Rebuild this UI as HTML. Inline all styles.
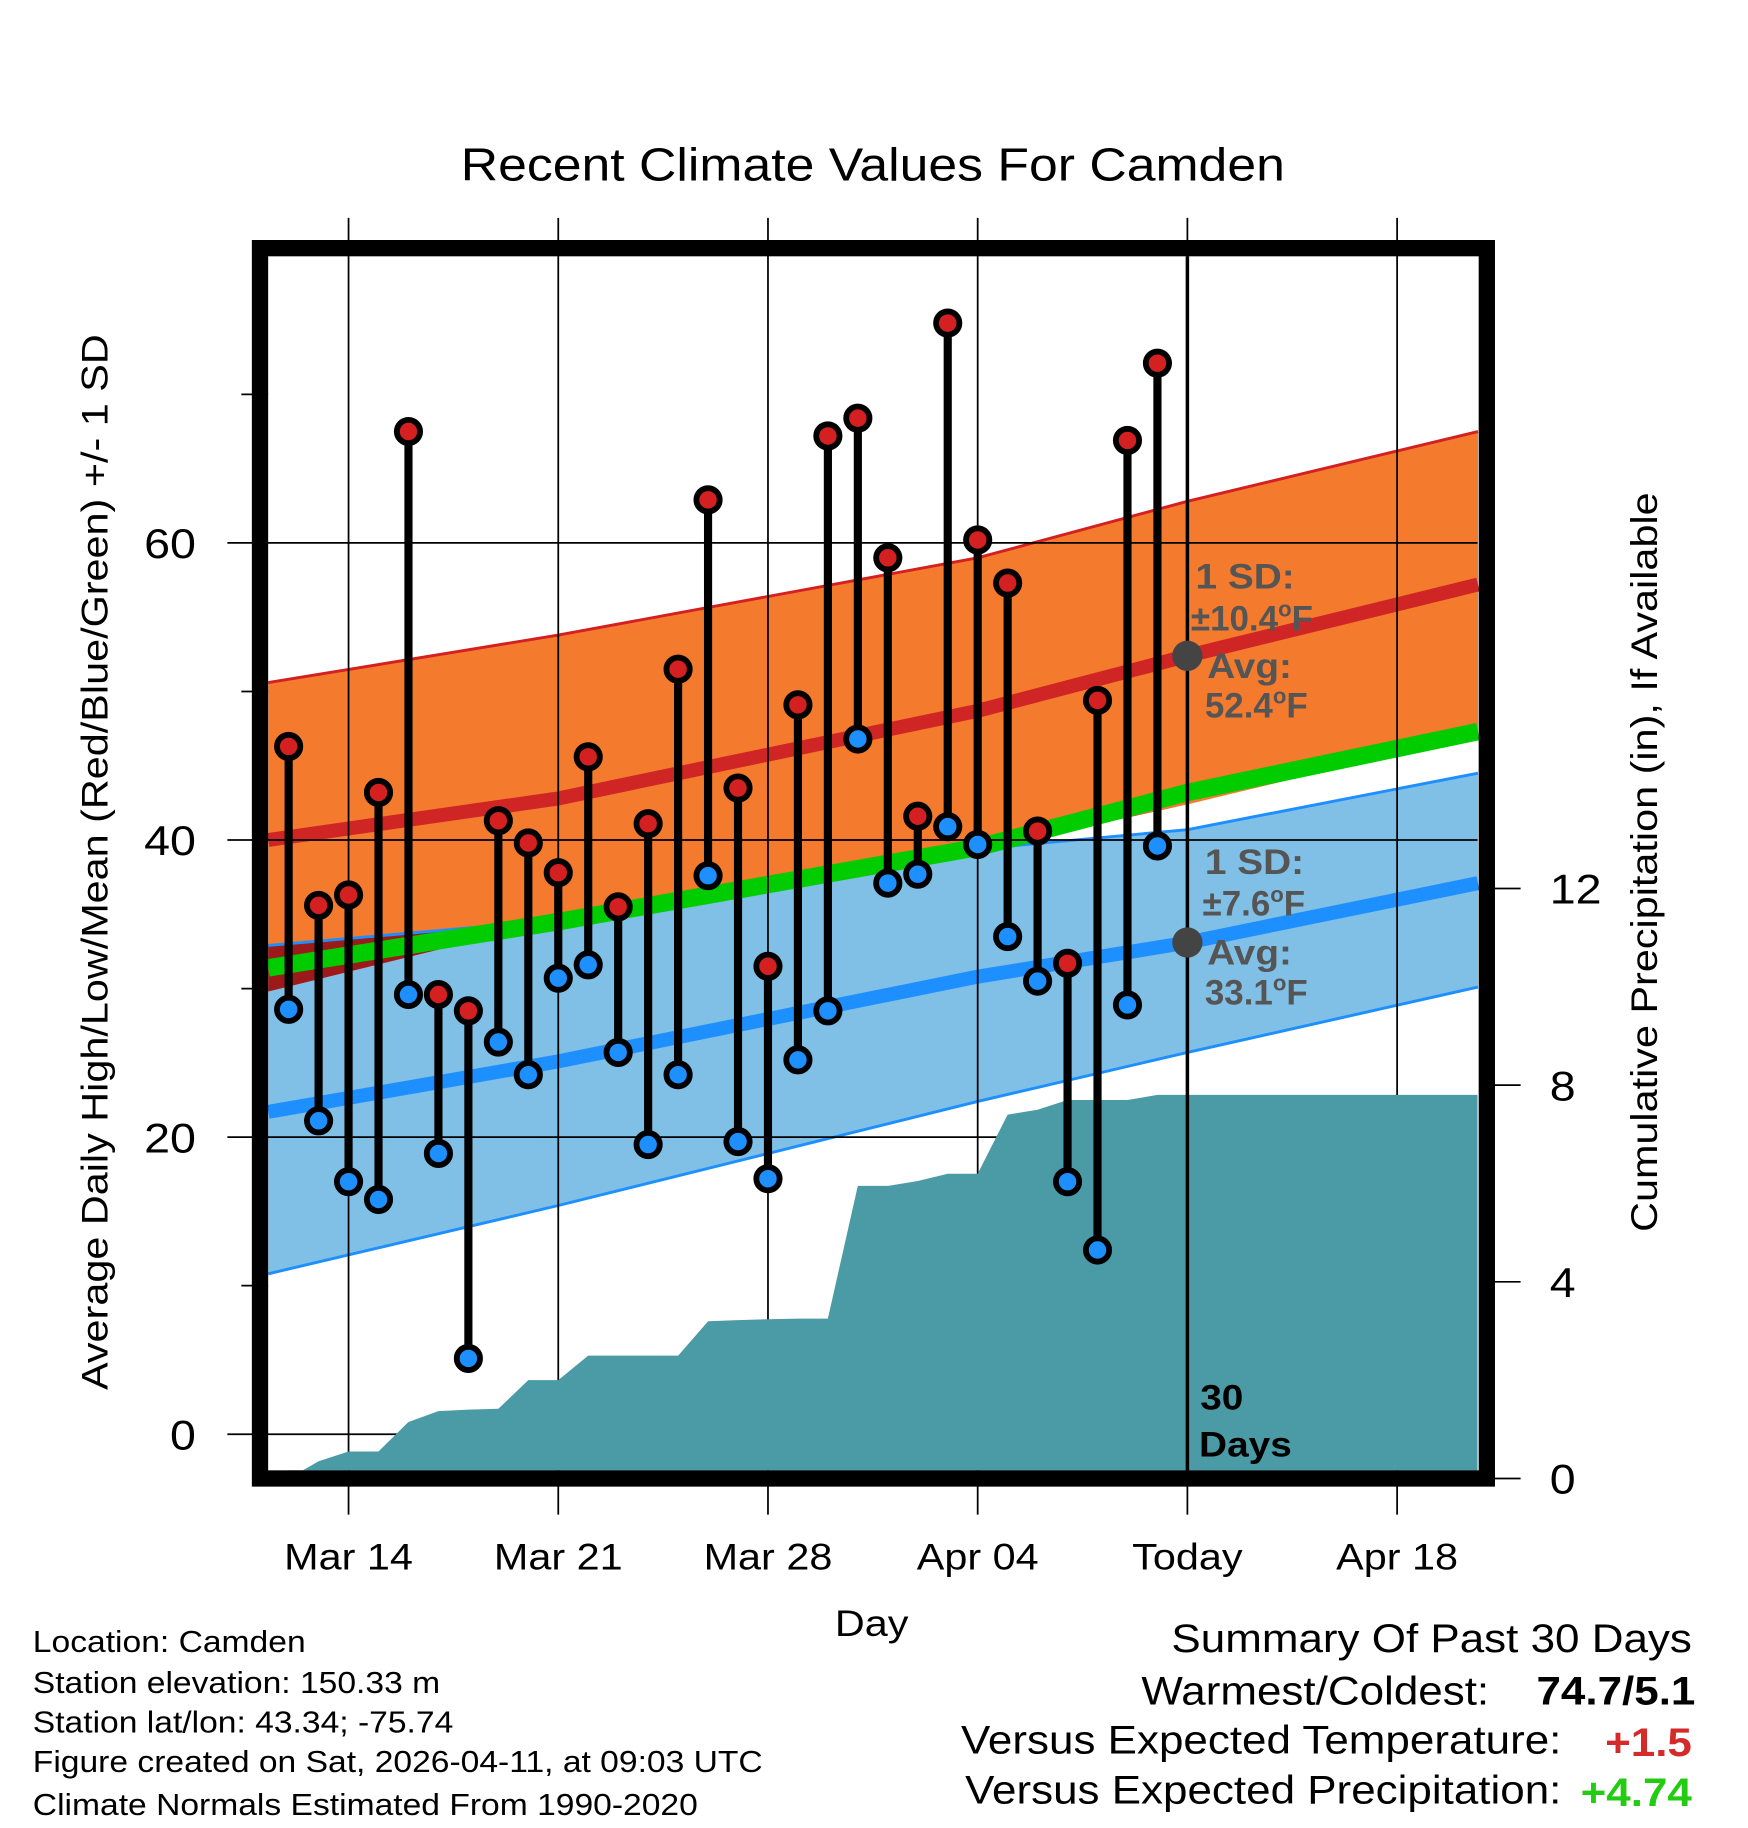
<!DOCTYPE html>
<html><head><meta charset="utf-8">
<style>html,body{margin:0;padding:0;background:#fff}svg{display:block}</style>
</head><body>
<svg id="chart" xmlns="http://www.w3.org/2000/svg" width="1748" height="1828" viewBox="0 0 1500 1569" font-family="Liberation Sans, Arial, sans-serif">
<rect width="1500" height="1569" fill="#fff"/>
<text x="749" y="155" font-size="40" text-anchor="middle">Recent Climate Values For Camden</text>
<g id="bands"></g>
<g id="grid"></g>
<g id="precip"></g>
<g id="marks"></g>
<g id="frame"></g>
<g id="annot"></g>
<text transform="translate(92,740) rotate(-90)" font-size="32" text-anchor="middle">Average Daily High/Low/Mean (Red/Blue/Green) +/- 1 SD</text>
<text transform="translate(1422,740) rotate(-90)" font-size="32" text-anchor="middle">Cumulative Precipitation (in), If Available</text>
<text x="748" y="1404" font-size="32" text-anchor="middle">Day</text>
<g font-size="26">
<text x="28" y="1418">Location: Camden</text>
<text x="28" y="1453">Station elevation: 150.33 m</text>
<text x="28" y="1487">Station lat/lon: 43.34; -75.74</text>
<text x="28" y="1521">Figure created on Sat, 2026-04-11, at 09:03 UTC</text>
<text x="28" y="1558">Climate Normals Estimated From 1990-2020</text>
</g>
<g font-size="34">
<text x="1452" y="1418" text-anchor="end">Summary Of Past 30 Days</text>
<text x="1278" y="1463" text-anchor="end">Warmest/Coldest:</text>
<text x="1455" y="1463" text-anchor="end" font-weight="bold">74.7/5.1</text>
<text x="1340" y="1505" text-anchor="end">Versus Expected Temperature:</text>
<text x="1452" y="1507" text-anchor="end" font-weight="bold" fill="#d42a2a">+1.5</text>
<text x="1340" y="1548" text-anchor="end">Versus Expected Precipitation:</text>
<text x="1452" y="1550" text-anchor="end" font-weight="bold" fill="#22cc11">+4.74</text>
</g>
</svg>
<script>
// ---- data ----
const normDays = [-2.68, 7, 21, 28, 37.7];          // days relative to Mar 14
const redUpper = [50.6, 53.8, 59.0, 62.8, 67.5];
const redMean  = [40.0, 42.8, 48.7, 52.4, 57.2];
const redLower = [29.8, 34.6, 39.3, 42.4, 47.1];
const greenMean= [31.4, 34.5, 39.5, 43.2, 47.3];
const blueUpper= [32.9, 34.6, 39.4, 40.7, 44.5];
const blueMean = [21.7, 25.1, 30.8, 33.1, 37.1];
const blueLower= [10.8, 15.4, 22.4, 25.7, 30.1];
const highs = [46.3,35.6,36.3,43.2,67.5,29.6,28.5,41.3,39.8,37.8,45.6,35.5,41.1,51.5,62.9,43.5,31.5,49.1,67.2,68.4,59.0,41.6,74.8,60.2,57.3,40.6,31.7,49.4,66.9,72.1];
const lows  = [28.6,21.1,17.0,15.8,29.6,18.9,5.1,26.4,24.2,30.7,31.6,25.7,19.5,24.2,37.6,19.7,17.2,25.2,28.5,46.8,37.1,37.7,40.9,39.7,33.5,30.5,17.0,12.4,28.9,39.6];
const precip = [0,0.35,0.55,0.55,1.15,1.37,1.4,1.42,2.0,2.0,2.5,2.5,2.5,2.5,3.2,3.22,3.24,3.25,3.25,5.95,5.95,6.05,6.2,6.2,7.4,7.5,7.7,7.7,7.7,7.8];
const xTickLabels = ["Mar 14","Mar 21","Mar 28","Apr 04","Today","Apr 18"];
const xTickDays = [0,7,14,21,28,35];
const yTicks = [0,20,40,60];
const yMinor = [10,30,50,70];
const y2Ticks = [0,4,8,12];
const firstDay = -2;
// ---- axes ----
const X = d => 299 + 25.714*d;
const Y = v => 1231 - 12.75*v;
const Y2 = p => 1269 - 42.2*p;
const L = 230, R = 1268, T = 220, B = 1262;
const NS = "http://www.w3.org/2000/svg";
function mk(tag, parent, attrs){const e=document.createElementNS(NS,tag);for(const k in attrs)e.setAttribute(k,attrs[k]);parent.appendChild(e);return e;}
const bands=document.getElementById('bands'),grid=document.getElementById('grid'),pr=document.getElementById('precip'),marks=document.getElementById('marks'),frame=document.getElementById('frame'),annot=document.getElementById('annot');
function line(arr){return normDays.map((d,i)=>X(d).toFixed(1)+','+Y(arr[i]).toFixed(1));}
function band(up,lo,fill,name){
  const pts=line(up).concat(line(lo).reverse()).join(' ');
  const p=mk('polygon',bands,{points:pts,fill:fill});
  
  
}
function pl(arr,stroke,w,name){
  const p=mk('polyline',bands,{points:line(arr).join(' '),fill:'none',stroke:stroke,'stroke-width':w});
  
  
}
band(blueUpper,blueLower,'#80bfe6','low-sd-band');
band(redUpper,redLower,'#f47a2e','high-sd-band');
const ovTop=blueUpper.map((v,i)=>Math.max(v,redLower[i])), ovBot=redLower;
band(ovTop,ovBot,'#9c1a1a','overlap-band');
pl(blueUpper,'#1e8fff',2.5,'low-upper-line');
pl(blueLower,'#1e8fff',2.5,'low-lower-line');
pl(redUpper,'#d42020',2.5,'high-upper-line');
pl(greenMean,'#00cc00',15,'mean-normal-line');
pl(redMean,'#d02525',12,'high-normal-line');
pl(blueMean,'#1e8fff',12,'low-normal-line');
// grid
yTicks.forEach(v=>{const l=mk('line',grid,{x1:195,x2:R,y1:Y(v),y2:Y(v),stroke:'#000','stroke-width':1.5});
 const t=mk('text',grid,{x:168,y:Y(v)+13,'font-size':36,'text-anchor':'end'});t.textContent=v;});
yMinor.forEach(v=>{const l=mk('line',grid,{x1:207,x2:L,y1:Y(v),y2:Y(v),stroke:'#000','stroke-width':1.5});});
xTickDays.forEach((d,i)=>{const l=mk('line',grid,{x1:X(d),x2:X(d),y1:187,y2:1300,stroke:'#000','stroke-width':1.5});
 const t=mk('text',grid,{x:X(d),y:1347,'font-size':32,'text-anchor':'middle'});t.textContent=xTickLabels[i];});
y2Ticks.forEach(p=>{const l=mk('line',grid,{x1:1276,x2:1305,y1:Y2(p),y2:Y2(p),stroke:'#000','stroke-width':1.5});
 const t=mk('text',grid,{x:1330,y:Y2(p)+13,'font-size':36});t.textContent=p;});
// precip area
let pts=[X(firstDay)+','+Y2(0)];
precip.forEach((p,i)=>pts.push(X(firstDay+i).toFixed(1)+','+Y2(p).toFixed(1)));
pts.push(R+','+Y2(precip[precip.length-1]).toFixed(1));pts.push(R+','+B);pts.push(X(firstDay)+','+B);
const area=mk('polygon',pr,{points:pts.join(' '),fill:'#4a9ba5'});


// today line
const tl=mk('line',marks,{x1:X(28),x2:X(28),y1:T,y2:B,stroke:'#000','stroke-width':3});


// temps
highs.forEach((h,i)=>{const x=X(firstDay+i);
 const s=mk('line',marks,{x1:x,x2:x,y1:Y(h),y2:Y(lows[i]),stroke:'#000','stroke-width':7});
 
 });
highs.forEach((h,i)=>{const x=X(firstDay+i);
 const c1=mk('circle',marks,{cx:x,cy:Y(h),r:10,fill:'#d42020',stroke:'#000','stroke-width':5});
 
 
 const c2=mk('circle',marks,{cx:x,cy:Y(lows[i]),r:10,fill:'#1e8fff',stroke:'#000','stroke-width':5});
 
 });
// mean dots
[52.4,33.1].forEach(v=>{const c=mk('circle',marks,{cx:X(28),cy:Y(v),r:13,fill:'#444'});
 
 });
// frame
const fr=mk('rect',frame,{x:223,y:213,width:1053,height:1056,fill:'none',stroke:'#000','stroke-width':14});


// annotations
function tx(x,y,str,fill,name){const t=mk('text',annot,{x:x,y:y,'font-size':30,'font-weight':'bold',fill:fill});t.innerHTML=str;}
tx(1026,505,'1 SD:','#555','high-sd-label');
tx(1022,541,'±10.4<tspan font-size="19" dy="-12">o</tspan><tspan dy="12">F</tspan>','#555','high-sd-value');
tx(1036,582,'Avg:','#555','high-avg-label');
tx(1034,616,'52.4<tspan font-size="19" dy="-12">o</tspan><tspan dy="12">F</tspan>','#555','high-avg-value');
tx(1034,750,'1 SD:','#555','low-sd-label');
tx(1032,786,'±7.6<tspan font-size="19" dy="-12">o</tspan><tspan dy="12">F</tspan>','#555','low-sd-value');
tx(1036,828,'Avg:','#555','low-avg-label');
tx(1034,862,'33.1<tspan font-size="19" dy="-12">o</tspan><tspan dy="12">F</tspan>','#555','low-avg-value');
tx(1030,1210,'30','#000','days-count-label');
tx(1029,1250,'Days','#000','days-label');
// widen text to match reference glyph widths
document.querySelectorAll('#chart text').forEach(t=>{
  if(t.querySelector('tspan')) return;
  const w=t.getComputedTextLength();
  if(w>0){t.setAttribute('textLength',(w*1.11).toFixed(1));t.setAttribute('lengthAdjust','spacingAndGlyphs');}
});
</script>
</body></html>
